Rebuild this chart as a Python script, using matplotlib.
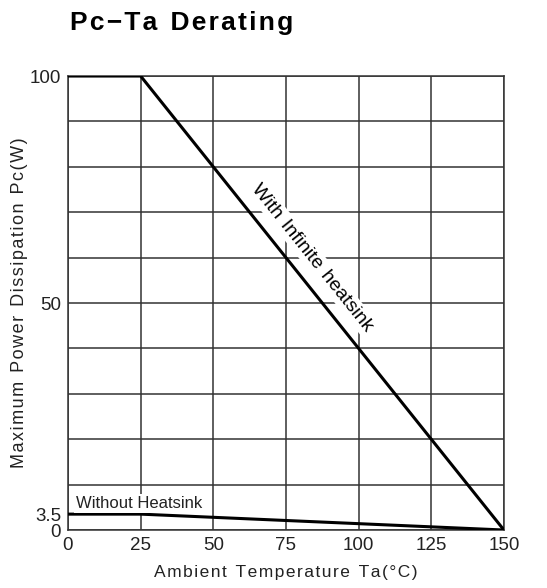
import numpy as np
import matplotlib
matplotlib.use('Agg')
import matplotlib.pyplot as plt

# -------------------------------
# data
# -------------------------------
ta_points = [0, 25, 150]              # ambient temperature, deg C
pc_infinite = [100, 100, 0]           # with infinite heatsink, W
pc_no_sink = [3.5, 3.5, 0]            # without heatsink, W

x_ticks = [0, 25, 50, 75, 100, 125, 150]
y_ticks = [0, 3.5, 50, 100]
y_ticklabels = ['0', '3.5', '50', '100']
y_grid = [0, 10, 20, 30, 40, 50, 60, 70, 80, 90, 100]

plt.rcParams['font.family'] = ['Liberation Sans', 'DejaVu Sans']


def spaced(s):
    # loose letter spacing like the datasheet
    return '\u200a'.join(s).replace('\u200a \u200a', '\u2002')


fig = plt.figure(figsize=(5.47, 5.88), dpi=100)
ax = fig.add_axes([0.1243, 0.0986, 0.797, 0.7721])

grid_col = '#333333'
for gx in x_ticks:
    ax.axvline(gx, color=grid_col, lw=1.1, zorder=1)
for gy in y_grid:
    ax.axhline(gy, color=grid_col, lw=1.1, zorder=1)

ax.plot(ta_points, pc_infinite, color='black', lw=2.2, zorder=3, solid_capstyle='butt')
ax.plot(ta_points, pc_no_sink, color='black', lw=2.2, zorder=3, solid_capstyle='butt')

ax.set_xlim(0, 150)
ax.set_ylim(0, 100)
ax.set_xticks(x_ticks)
ax.set_yticks(y_ticks)
ax.set_yticklabels(y_ticklabels)
ax.tick_params(length=0, labelsize=13.5, colors='#222222', pad=5)
for s in ax.spines.values():
    s.set_color(grid_col)
    s.set_linewidth(1.1)

# rotated label along the infinite heatsink line
ang = np.degrees(np.arctan2(pc_infinite[2] - pc_infinite[1], ta_points[2] - ta_points[1]))
ax.text(84, 60, 'With\u200a Infinite\u200a heatsink', rotation=ang, rotation_mode='anchor',
        transform_rotates_text=True, ha='center', va='center', fontsize=14, zorder=4,
        bbox=dict(facecolor='white', edgecolor='none', pad=1.5))

ax.text(2.8, 5.9, 'Without Heatsink', ha='left', va='center', fontsize=12, zorder=4,
        family=['Liberation Sans Narrow', 'Liberation Sans'], color='#222222',
        bbox=dict(facecolor='white', edgecolor='none', pad=1.5))

ax.set_xlabel(spaced('Ambient Temperature Ta(°C)'), fontsize=12.5, labelpad=8, color='#222222')
ax.set_ylabel(spaced('Maximum Power Dissipation Pc(W)'), fontsize=13, labelpad=1, color='#222222')

fig.text(70 / 547, 1 - 23 / 588, spaced('Pc−Ta Derating'),
         fontsize=19, fontweight='bold', ha='left', va='center')

plt.savefig('out.png', dpi=100)
